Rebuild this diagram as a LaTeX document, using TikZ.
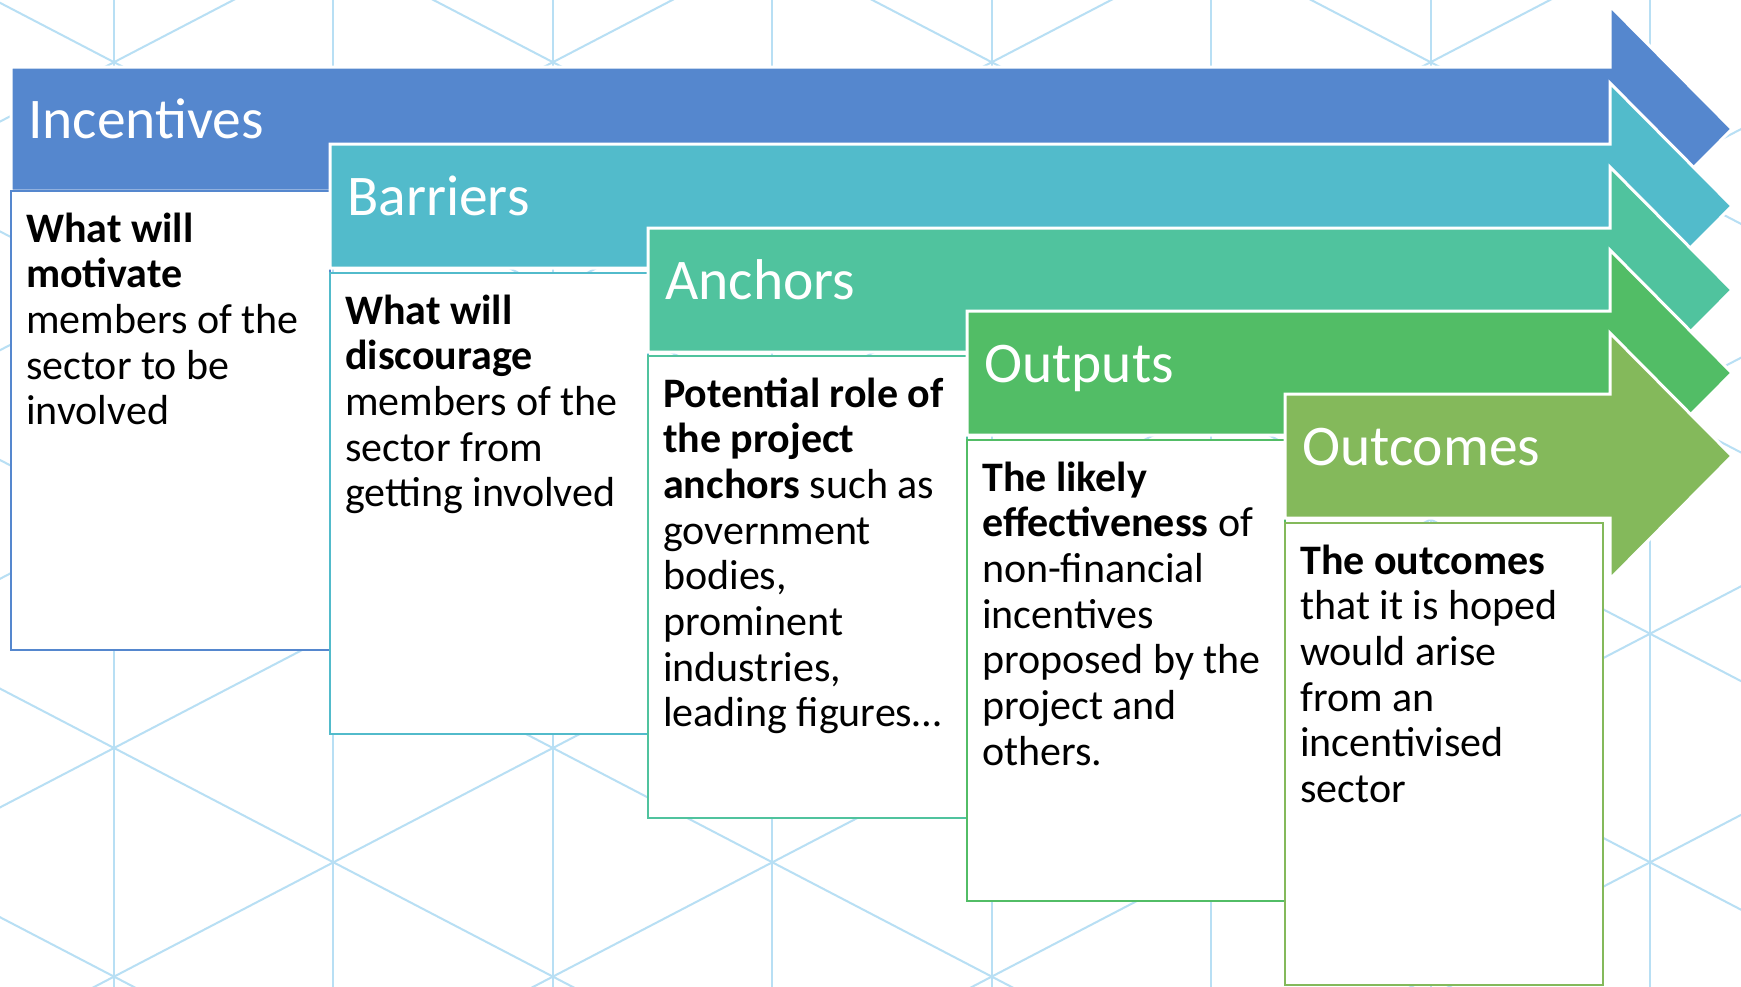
\documentclass[tikz,border=0pt]{standalone}
\usepackage{fontspec}
\setmainfont{Carlito}

\definecolor{gridblue}{HTML}{B8DFF4}
\definecolor{cInc}{HTML}{5587CE}
\definecolor{cBar}{HTML}{52BBCB}
\definecolor{cAnc}{HTML}{50C39E}
\definecolor{cOut}{HTML}{52BD66}
\definecolor{cRes}{HTML}{84B95B}

% block arrow: left edge, top of the shaft, fill colour
\newcommand{\flowarrow}[3]{%
  \path[arrowshape, fill=#3] (#1,#2) -- (1610,#2) -- (1610,#2-61) -- (1732,#2+62)
    -- (1610,#2+185) -- (1610,#2+124) -- (#1,#2+124) -- cycle;}

\begin{document}
\begin{tikzpicture}[x=1pt,y=-1pt,
  gridline/.style={draw=gridblue, line width=2pt},
  arrowshape/.style={draw=white, line width=3pt, line join=miter},
  card/.style={fill=white, line width=2pt},
  title/.style={anchor=base west, inner sep=0pt, text=white,
    font=\fontsize{57.5}{60}\selectfont},
  body/.style={anchor=base west, inner sep=0pt, text=black,
    font=\fontsize{42}{45.7}\selectfont}]

% page and background lattice
\fill[white] (0,0) rectangle (1741,986);
\useasboundingbox (0,0) rectangle (1741,986);
\begin{scope}
  \clip (0,0) rectangle (1741,986);
  \foreach \k in {0,...,7}{
    \draw[gridline] ({114+219.43*\k},-5) -- ({114+219.43*\k},995);
  }
  \foreach \m in {-8,...,2}{
    \draw[gridline] (-20,{688.6+228.6*\m-20*0.5209}) -- (1760,{688.6+228.6*\m+1760*0.5209});
  }
  \foreach \m in {-4,...,5}{
    \draw[gridline] (-20,{807.4+228.6*\m+20*0.5209}) -- (1760,{807.4+228.6*\m-1760*0.5209});
  }
\end{scope}

% Incentives
\flowarrow{11}{67}{cInc}
\draw[card, draw=cInc] (11,191) rectangle (329.5,650);
\node[title] (tInc) at (28,138) {Incentives};
\node[body] (bInc) at (26,242) {\parbox[t]{300pt}{\raggedright
  \textbf{What will}\\ \textbf{motivate}\\ members of the\\ sector to be\\ involved}};

% Barriers
\flowarrow{330}{144}{cBar}
\draw[card, draw=cBar] (330,273) rectangle (648,734);
\node[title] (tBar) at (347,215) {Barriers};
\node[body] (bBar) at (345,324) {\parbox[t]{300pt}{\raggedright
  \textbf{What will}\\ \textbf{discourage}\\ members of the\\ sector from\\ getting involved}};

% Anchors
\flowarrow{648}{228}{cAnc}
\draw[card, draw=cAnc] (648,356) rectangle (967,818);
\node[title] (tAnc) at (665,299) {Anchors};
\node[body] (bAnc) at (663,407) {\parbox[t]{300pt}{\raggedright
  \textbf{Potential role of}\\ \textbf{the project}\\ \textbf{anchors} such as\\ government\\
  bodies,\\ prominent\\ industries,\\ leading figures…}};

% Outputs
\flowarrow{967}{311}{cOut}
\draw[card, draw=cOut] (967,440) rectangle (1285,901);
\node[title] (tOut) at (984,382) {Outputs};
\node[body] (bOut) at (982,491) {\parbox[t]{300pt}{\raggedright
  \textbf{The likely}\\ \textbf{effectiveness} of\\ non-financial\\ incentives\\
  proposed by the\\ project and\\ others.}};

% Outcomes
\flowarrow{1285}{394}{cRes}
\draw[card, draw=cRes] (1285,523) rectangle (1603,985);
\node[title] (tRes) at (1302,465) {Outcomes};
\node[body] (bRes) at (1300,574) {\parbox[t]{300pt}{\raggedright
  \textbf{The outcomes}\\ that it is hoped\\ would arise\\ from an\\ incentivised\\ sector}};

\end{tikzpicture}
\end{document}
